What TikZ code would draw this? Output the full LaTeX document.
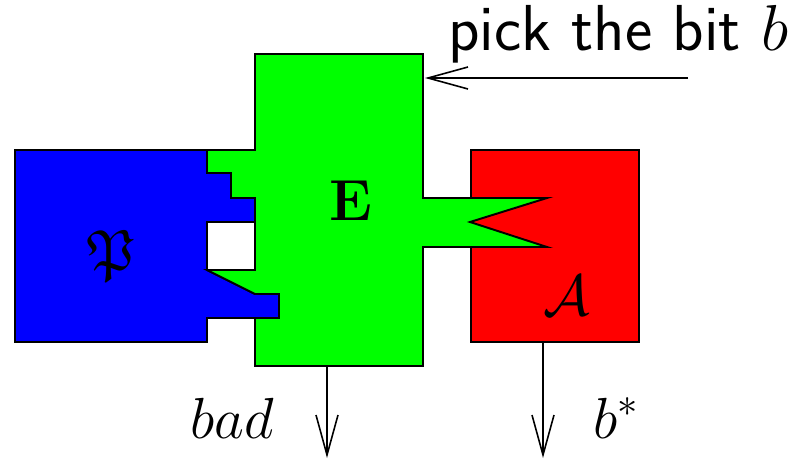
\RequirePackage{fix-cm}
\documentclass[tikz,border=0pt]{standalone}
\usepackage{amsmath,amssymb}
\usepackage{xcolor}
\usepackage{tikz}
\usetikzlibrary{arrows.meta}

\begin{document}
\begin{tikzpicture}[
  x=0.02cm, y=-0.02cm,
  part/.style={draw=black, line width=1.1pt, line join=miter},
  arr/.style={-{Straight Barb[length=0.8cm, width=0.44cm]}, line width=0.9pt},
  lbl/.style={font=\fontsize{33}{40}\selectfont, inner sep=0pt},
]
\useasboundingbox (0,0) rectangle (797,460);

% adversary
\path[part, fill=red] (471,150) rectangle (639,342);
% prover
\path[part, fill=blue] (15,150) -- (207,150) -- (207,173) -- (231,173)
  -- (231,198) -- (255,198) -- (255,222) -- (207,222) -- (207,270)
  -- (255,294) -- (279,294) -- (279,318) -- (207,318) -- (207,342)
  -- (15,342) -- cycle;
% extractor
\path[part, fill=green] (255,54) -- (423,54) -- (423,198) -- (547,198)
  -- (470,222) -- (547,247) -- (423,247) -- (423,366) -- (255,366)
  -- (255,318) -- (279,318) -- (279,294) -- (255,294) -- (207,270)
  -- (255,270) -- (255,198) -- (231,198) -- (231,173) -- (207,173)
  -- (207,150) -- (255,150) -- cycle;

\node[lbl]                  (prover) at (111,256) {$\mathfrak{P}$};
\node[lbl]                  (extr)   at (351,201) {$\mathbf{E}$};
\node[lbl]                  (adv)    at (567,296) {$\mathcal{A}$};
\node[lbl, font=\fontsize{37}{44}\selectfont, anchor=base west]
                            (pick)   at (448,50)  {\sffamily pick the bit $b$};
\node[lbl, anchor=base]     (bad)    at (232,438) {$bad$};
\node[lbl, anchor=base]     (guess)  at (616,438) {$b^*$};

\coordinate (bitsrc) at (688,78);
\coordinate (bitdst) at (425,78);
\coordinate (Eout)   at (327,366);
\coordinate (badend) at (327,458);
\coordinate (Aout)   at (543,342);
\coordinate (bend)   at (543,458);

\draw[arr] (bitsrc) -- (bitdst);
\draw[arr] (Eout)   -- (badend);
\draw[arr] (Aout)   -- (bend);
\end{tikzpicture}
\end{document}
